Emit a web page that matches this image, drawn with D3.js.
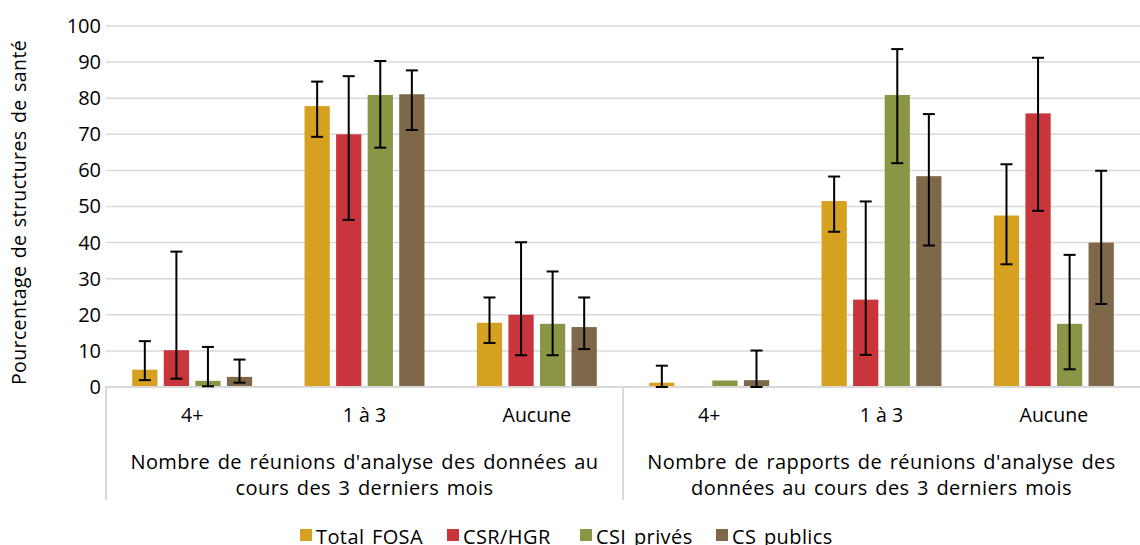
<!DOCTYPE html>
<html>
<head>
<meta charset="utf-8">
<script src="https://d3js.org/d3.v7.min.js"></script>
<style>
  body { margin: 0; background: #fff; }
  text { font-family: "Open Sans", "Liberation Sans", Arial, sans-serif; fill: #000; }
</style>
</head>
<body>
<svg id="chart" width="1140" height="545"></svg>
<script>
// data
var groups = ["4+", "1 à 3", "Aucune", "4+", "1 à 3", "Aucune"];
var superGroups = [
  ["Nombre de réunions d'analyse des données au", "cours des 3 derniers mois"],
  ["Nombre de rapports de réunions d'analyse des", "données au cours des 3 derniers mois"]
];
var seriesNames = ["Total FOSA", "CSR/HGR", "CSI privés", "CS publics"];
var colors = ["#D6A120", "#C8353A", "#8A9545", "#7F684A"];

var fosa    = [4.8, 77.8, 17.8, 1.2, 51.5, 47.5];
var fosaLo  = [1.9, 69.3, 12.2, 0, 43, 34];
var fosaHi  = [12.7, 84.6, 24.8, 5.9, 58.3, 61.7];
var csr     = [10.2, 70, 20, 0, 24.2, 75.8];
var csrLo   = [2.3, 46.3, 8.8, null, 8.9, 48.8];
var csrHi   = [37.5, 86.1, 40.1, null, 51.4, 91.2];
var csi     = [1.7, 80.9, 17.5, 1.8, 80.9, 17.5];
var csiLo   = [0.2, 66.3, 8.8, null, 62, 4.9];
var csiHi   = [11.1, 90.3, 32, null, 93.6, 36.6];
var cs      = [2.8, 81.1, 16.6, 1.9, 58.4, 40];
var csLo    = [1.2, 71.2, 10.5, 0, 39.2, 23];
var csHi    = [7.6, 87.7, 24.8, 10.1, 75.6, 59.9];
var yTicks = [0, 10, 20, 30, 40, 50, 60, 70, 80, 90, 100];

var series = [
  { v: fosa, lo: fosaLo, hi: fosaHi },
  { v: csr, lo: csrLo, hi: csrHi },
  { v: csi, lo: csiLo, hi: csiHi },
  { v: cs, lo: csLo, hi: csHi }
];

var svg = d3.select("#chart");
var plotL = 106, plotR = 1140, plotT = 26, plotB = 387;

var x0 = d3.scaleBand().domain(d3.range(groups.length)).range([plotL, plotR]).padding(0);
var x1 = d3.scaleBand().domain(d3.range(seriesNames.length))
  .range([0, x0.bandwidth()]).paddingInner(0.2).paddingOuter(0.83);
var y = d3.scaleLinear().domain([0, 100]).range([plotB, plotT]);

// gridlines
svg.append("g").selectAll("line").data(yTicks.slice(1)).enter().append("line")
  .attr("x1", plotL).attr("x2", plotR)
  .attr("y1", function(d) { return y(d); }).attr("y2", function(d) { return y(d); })
  .attr("stroke", "#d9d9d9").attr("stroke-width", 1.5);

// y axis labels
var yAxis = d3.axisLeft(y).tickValues(yTicks).tickSize(0).tickPadding(5);
var ya = svg.append("g").attr("transform", "translate(" + plotL + ",0)").call(yAxis);
ya.select(".domain").remove();
ya.selectAll("text").style("font-size", "20px")
  .style("font-family", "Open Sans, Liberation Sans, Arial, sans-serif");

svg.append("text")
  .attr("transform", "translate(26," + ((plotT + plotB) / 2 + 6) + ") rotate(-90)")
  .attr("text-anchor", "middle").style("font-size", "19.5px")
  .style("letter-spacing", "0.4px").style("word-spacing", "2px")
  .text("Pourcentage de structures de santé");

// bars
series.forEach(function(s, si) {
  svg.append("g").selectAll("rect").data(s.v).enter().append("rect")
    .attr("x", function(d, i) { return x0(i) + x1(si); })
    .attr("y", function(d) { return y(d); })
    .attr("width", x1.bandwidth())
    .attr("height", function(d) { return y(0) - y(d); })
    .attr("fill", colors[si]);
});

// x axis line
svg.append("line").attr("x1", plotL - 1).attr("x2", plotR)
  .attr("y1", plotB).attr("y2", plotB)
  .attr("stroke", "#d9d9d9").attr("stroke-width", 2);

// error bars
series.forEach(function(s, si) {
  var g = svg.append("g").attr("stroke", "#000").attr("stroke-width", 2);
  s.v.forEach(function(d, i) {
    if (s.lo[i] === null) return;
    var cx = x0(i) + x1(si) + x1.bandwidth() / 2;
    g.append("line").attr("x1", cx).attr("x2", cx)
      .attr("y1", y(s.lo[i])).attr("y2", y(s.hi[i]));
    [s.lo[i], s.hi[i]].forEach(function(e) {
      g.append("line").attr("x1", cx - 6).attr("x2", cx + 6)
        .attr("y1", y(e)).attr("y2", y(e));
    });
  });
});

// category dividers
var half = x0.bandwidth() * 3;
[plotL, plotL + half].forEach(function(xx) {
  svg.append("line").attr("x1", xx).attr("x2", xx)
    .attr("y1", plotB).attr("y2", 500)
    .attr("stroke", "#d9d9d9").attr("stroke-width", 2);
});

// group labels
svg.append("g").selectAll("text").data(groups).enter().append("text")
  .attr("x", function(d, i) { return x0(i) + x0.bandwidth() / 2; })
  .attr("y", 422).attr("text-anchor", "middle").style("font-size", "19.5px")
  .text(function(d) { return d; });

superGroups.forEach(function(lines, k) {
  var cx = plotL + half * k + half / 2;
  lines.forEach(function(t, j) {
    svg.append("text").attr("x", cx).attr("y", 469 + j * 26)
      .attr("text-anchor", "middle").style("font-size", "20px")
      .style("letter-spacing", "0.4px").style("word-spacing", "2px")
      .text(t);
  });
});

// legend
var legX = [300, 447, 580, 716];
var leg = svg.append("g");
seriesNames.forEach(function(n, i) {
  leg.append("rect").attr("x", legX[i]).attr("y", 529).attr("width", 12).attr("height", 12)
    .attr("fill", colors[i]);
  leg.append("text").attr("x", legX[i] + 16).attr("y", 544).style("font-size", "20px")
    .style("letter-spacing", "0.4px").style("word-spacing", "2px").text(n);
});
</script>
</body>
</html>
